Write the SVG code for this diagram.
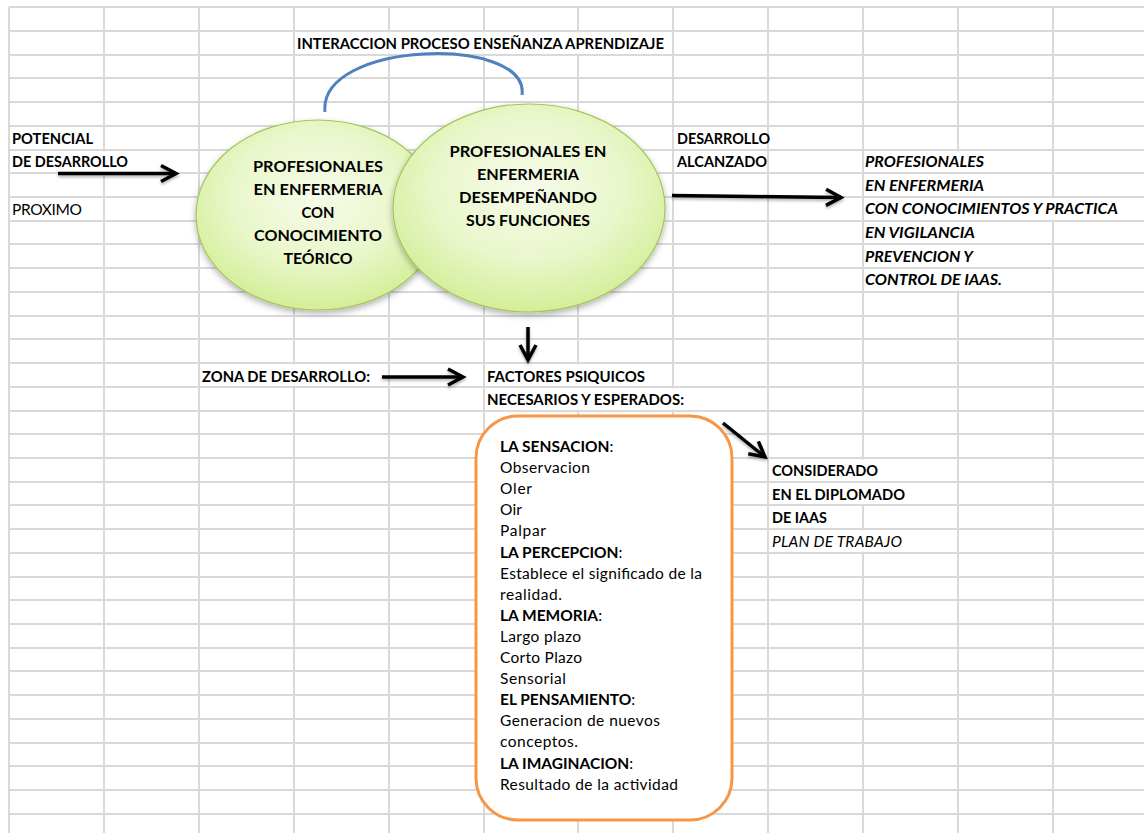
<svg xmlns="http://www.w3.org/2000/svg" width="1144" height="833" viewBox="0 0 1144 833">
<style>
.t{font-family:Lato,"Liberation Sans",sans-serif;font-size:15.5px;fill:#000}
.b{font-weight:700}
.i{font-style:italic}
.n{font-weight:400}
.grid{stroke:#d9d9d9;stroke-width:2;fill:none}
.arr{stroke:#000;stroke-width:3.5;fill:none;marker-end:url(#ah)}
</style>
<defs>
<radialGradient id="g" cx="50%" cy="40%" r="62%">
<stop offset="0" stop-color="#f6fbe9"/>
<stop offset="0.55" stop-color="#eaf7cc"/>
<stop offset="1" stop-color="#d2ed94"/>
</radialGradient>
<filter id="sh" x="-20%" y="-20%" width="140%" height="150%">
<feDropShadow dx="0" dy="3" stdDeviation="3" flood-color="#000" flood-opacity="0.3"/>
</filter>
<filter id="sh2" filterUnits="userSpaceOnUse" x="0" y="0" width="1144" height="833">
<feDropShadow dx="0" dy="2" stdDeviation="1.5" flood-color="#000" flood-opacity="0.3"/>
</filter>
<marker id="ah" markerUnits="userSpaceOnUse" markerWidth="30" markerHeight="30" viewBox="-20 -15 30 30" refX="0" refY="0" orient="auto">
<path d="M-15,-8 L0,0 L-15,8" stroke="#000" stroke-width="3.5" fill="none" stroke-linejoin="miter"/>
</marker>
</defs>
<rect width="1144" height="833" fill="#fff"/>
<g id="grid">
<path class="grid" d="M9,7V833M104,7V833M199,7V833M294,7V833M389,7V833M484,7V833M578,7V833M673,7V833M768,7V833M863,7V833M958,7V833M1053,7V833"/>
<g fill="#fff">
<rect x="380" y="32.5" width="210" height="21"/>
<rect x="95" y="151.5" width="18" height="20.5"/>
<rect x="949" y="151.5" width="18" height="139"/>
<rect x="1044" y="198.5" width="18" height="21"/>
<rect x="285" y="364.5" width="18" height="21"/>
<rect x="569" y="364.5" width="18" height="45"/>
<rect x="664" y="388.5" width="18" height="21"/>
<rect x="854" y="459.5" width="18" height="45"/>
<rect x="854" y="530.5" width="18" height="21"/>
</g>
<path class="grid" d="M9,7H1144M9,31H1144M9,55H1144M9,78H1144M9,102H1144M9,126H1144M9,150H1144M9,173H1144M9,197H1144M9,221H1144M9,244H1144M9,268H1144M9,292H1144M9,316H1144M9,339H1144M9,363H1144M9,387H1144M9,411H1144M9,434H1144M9,458H1144M9,482H1144M9,505H1144M9,529H1144M9,553H1144M9,577H1144M9,600H1144M9,624H1144M9,648H1144M9,671H1144M9,695H1144M9,719H1144M9,743H1144M9,766H1144M9,790H1144M9,814H1144"/>
</g>

<g id="labels">
<text class="t b" x="297" y="49" textLength="367" lengthAdjust="spacingAndGlyphs">INTERACCION PROCESO ENSEÑANZA APRENDIZAJE</text>
<text class="t b" x="12" y="144" textLength="81" lengthAdjust="spacingAndGlyphs">POTENCIAL</text>
<text class="t b" x="12" y="167" textLength="116" lengthAdjust="spacingAndGlyphs">DE DESARROLLO</text>
<text class="t" x="12" y="215" textLength="70">PROXIMO</text>
<text class="t b" x="677" y="144" textLength="93" lengthAdjust="spacingAndGlyphs">DESARROLLO</text>
<text class="t b" x="677" y="167" textLength="90" lengthAdjust="spacingAndGlyphs">ALCANZADO</text>
<text class="t b" x="202" y="382" textLength="168" lengthAdjust="spacingAndGlyphs">ZONA DE DESARROLLO:</text>
</g>

<g id="result">
<text class="t b i" x="865" y="167" textLength="119" lengthAdjust="spacingAndGlyphs">PROFESIONALES</text>
<text class="t b i" x="865" y="191" textLength="119" lengthAdjust="spacingAndGlyphs">EN ENFERMERIA</text>
<text class="t b i" x="865" y="214" textLength="253" lengthAdjust="spacingAndGlyphs">CON CONOCIMIENTOS Y PRACTICA</text>
<text class="t b i" x="865" y="238" textLength="110" lengthAdjust="spacingAndGlyphs">EN VIGILANCIA</text>
<text class="t b i" x="865" y="262" textLength="108" lengthAdjust="spacingAndGlyphs">PREVENCION Y</text>
<text class="t b i" x="865" y="285" textLength="137" lengthAdjust="spacingAndGlyphs">CONTROL DE IAAS.</text>
</g>

<g id="considerado">
<text class="t b" x="772" y="476" textLength="106" lengthAdjust="spacingAndGlyphs">CONSIDERADO</text>
<text class="t b" x="772" y="500" textLength="133" lengthAdjust="spacingAndGlyphs">EN EL DIPLOMADO</text>
<text class="t b" x="772" y="523" textLength="55" lengthAdjust="spacingAndGlyphs">DE IAAS</text>
<text class="t i" x="772" y="547" textLength="130">PLAN DE TRABAJO</text>
</g>

<g id="factores">
<text class="t b" x="487" y="382" textLength="158" lengthAdjust="spacingAndGlyphs">FACTORES PSIQUICOS</text>
<text class="t b" x="487" y="405" textLength="197" lengthAdjust="spacingAndGlyphs">NECESARIOS Y ESPERADOS:</text>
</g>

<g id="interaccion-arc">
<path d="M325,112 C318,40 530,35 522,95" stroke="#4f81bd" stroke-width="3" fill="none"/>
</g>

<g id="ellipse-teorico">
<ellipse cx="318" cy="215" rx="122" ry="95" fill="url(#g)" stroke="#a3c65a" stroke-width="1.2" filter="url(#sh)"/>
<text class="t b" text-anchor="middle" x="318" y="172" textLength="130" lengthAdjust="spacingAndGlyphs">PROFESIONALES</text>
<text class="t b" text-anchor="middle" x="318" y="195" textLength="129" lengthAdjust="spacingAndGlyphs">EN ENFERMERIA</text>
<text class="t b" text-anchor="middle" x="318" y="218" textLength="33" lengthAdjust="spacingAndGlyphs">CON</text>
<text class="t b" text-anchor="middle" x="318" y="241" textLength="128" lengthAdjust="spacingAndGlyphs">CONOCIMIENTO</text>
<text class="t b" text-anchor="middle" x="318" y="264" textLength="69" lengthAdjust="spacingAndGlyphs">TEÓRICO</text>
</g>

<g id="ellipse-desempeno">
<ellipse cx="529" cy="208" rx="136" ry="104" fill="url(#g)" stroke="#a3c65a" stroke-width="1.2" filter="url(#sh)"/>
<text class="t b" text-anchor="middle" x="528" y="157" textLength="157" lengthAdjust="spacingAndGlyphs">PROFESIONALES EN</text>
<text class="t b" text-anchor="middle" x="528" y="180" textLength="102" lengthAdjust="spacingAndGlyphs">ENFERMERIA</text>
<text class="t b" text-anchor="middle" x="528" y="203" textLength="138" lengthAdjust="spacingAndGlyphs">DESEMPEÑANDO</text>
<text class="t b" text-anchor="middle" x="528" y="226" textLength="124" lengthAdjust="spacingAndGlyphs">SUS FUNCIONES</text>
</g>

<g id="box-factores">
<rect x="476" y="416" width="256" height="404" rx="42" ry="42" fill="#fff" stroke="#f79646" stroke-width="3"/>
<text class="t b" x="500" y="452">LA SENSACION<tspan class="n">:</tspan></text>
<text class="t" x="500" y="473" textLength="90">Observacion</text>
<text class="t" x="500" y="494" textLength="32">Oler</text>
<text class="t" x="500" y="515" textLength="22">Oir</text>
<text class="t" x="500" y="536" textLength="46">Palpar</text>
<text class="t b" x="500" y="557.5">LA PERCEPCION<tspan class="n">:</tspan></text>
<text class="t" x="500" y="578.5" textLength="202">Establece el significado de la</text>
<text class="t" x="500" y="599.5" textLength="62">realidad.</text>
<text class="t b" x="500" y="620.8">LA MEMORIA<tspan class="n">:</tspan></text>
<text class="t" x="500" y="641.9" textLength="81">Largo plazo</text>
<text class="t" x="500" y="663" textLength="82">Corto Plazo</text>
<text class="t" x="500" y="684.1" textLength="66">Sensorial</text>
<text class="t b" x="500" y="705.2">EL PENSAMIENTO<tspan class="n">:</tspan></text>
<text class="t" x="500" y="726.3" textLength="160">Generacion de nuevos</text>
<text class="t" x="500" y="747.4" textLength="78">conceptos.</text>
<text class="t b" x="500" y="768.5">LA IMAGINACION<tspan class="n">:</tspan></text>
<text class="t" x="500" y="789.6" textLength="178">Resultado de la actividad</text>
</g>

<g id="connectors" filter="url(#sh2)">
<path class="arr" d="M58,173.5 L176,173.5"/>
<path class="arr" d="M672,195.5 L841,197.5"/>
<path class="arr" d="M528,327 L528,360"/>
<path class="arr" d="M382,377 L463,377"/>
<path class="arr" d="M723,423 L765,457"/>
</g>
</svg>
